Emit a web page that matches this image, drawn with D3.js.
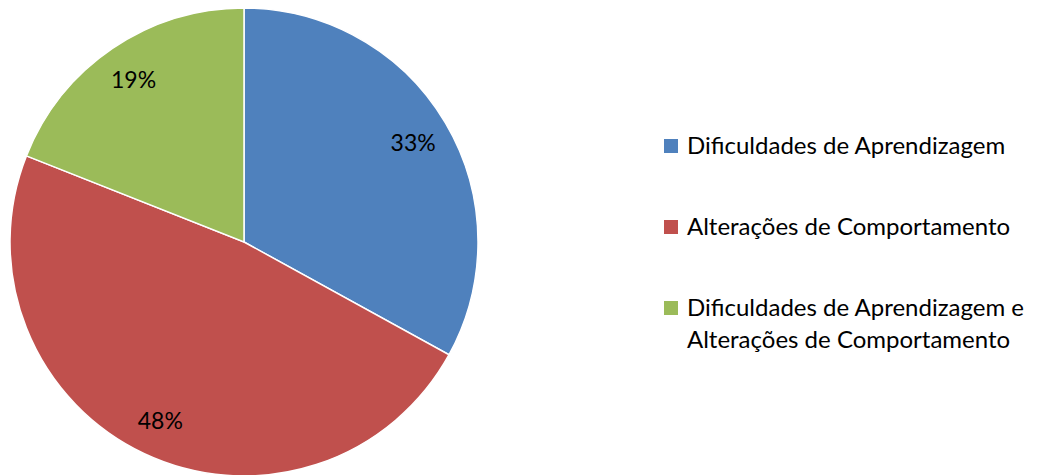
<!DOCTYPE html>
<html>
<head>
<meta charset="utf-8">
<script src="https://cdn.jsdelivr.net/npm/d3@7"></script>
<style>
  html, body { margin: 0; padding: 0; background: #fff; }
  svg { display: block; }
  text { font-family: Lato, "Open Sans", sans-serif; fill: #000; }
</style>
</head>
<body>
<svg id="chart" width="1041" height="475"></svg>
<script>
// Distribution of referral reasons
const categories = [
  "Dificuldades de Aprendizagem",
  "Alterações de Comportamento",
  "Dificuldades de Aprendizagem e Alterações de Comportamento"
];
const values = [33, 48, 19];
const colors = ["#4F81BD", "#C0504D", "#9BBB59"];
const legendLines = [
  ["Dificuldades de Aprendizagem"],
  ["Alterações de Comportamento"],
  ["Dificuldades de Aprendizagem e", "Alterações de Comportamento"]
];

const svg = d3.select("#chart");
const cx = 244, cy = 242, radius = 234;
const fontSize = 24;

const pie = d3.pie().sort(null).value(d => d.value);
const arcs = pie(categories.map((c, i) => ({ name: c, value: values[i], color: colors[i] })));
const arc = d3.arc().innerRadius(0).outerRadius(radius);
const labelArc = d3.arc().innerRadius(radius * 0.84).outerRadius(radius * 0.84);

const g = svg.append("g").attr("transform", `translate(${cx},${cy})`);

g.selectAll("path.slice")
  .data(arcs)
  .join("path")
  .attr("class", "slice")
  .attr("d", arc)
  .attr("fill", d => d.data.color)
  .attr("stroke", "#fff")
  .attr("stroke-width", 1.5);

const total = d3.sum(values);
g.selectAll("text.pct")
  .data(arcs)
  .join("text")
  .attr("class", "pct")
  .attr("transform", d => `translate(${labelArc.centroid(d)})`)
  .attr("text-anchor", "middle")
  .attr("dominant-baseline", "central")
  .style("font-size", "23px")
  .text(d => Math.round(d.data.value / total * 100) + "%");

// Legend
const legend = svg.append("g").attr("transform", "translate(664,0)");
const rowY = [146, 227, 308];
const item = legend.selectAll("g.item")
  .data(categories.map((c, i) => ({ color: colors[i], lines: legendLines[i], y: rowY[i] })))
  .join("g")
  .attr("class", "item");

item.append("rect")
  .attr("x", 0)
  .attr("y", d => d.y - 7)
  .attr("width", 14)
  .attr("height", 14)
  .attr("fill", d => d.color);

item.append("text")
  .style("font-size", fontSize + "px")
  .selectAll("tspan")
  .data(d => d.lines.map((l, j) => ({ l, j, y: d.y })))
  .join("tspan")
  .attr("x", 23)
  .attr("y", t => t.y + t.j * 32)
  .attr("dy", "0.35em")
  .text(t => t.l);
</script>
</body>
</html>
